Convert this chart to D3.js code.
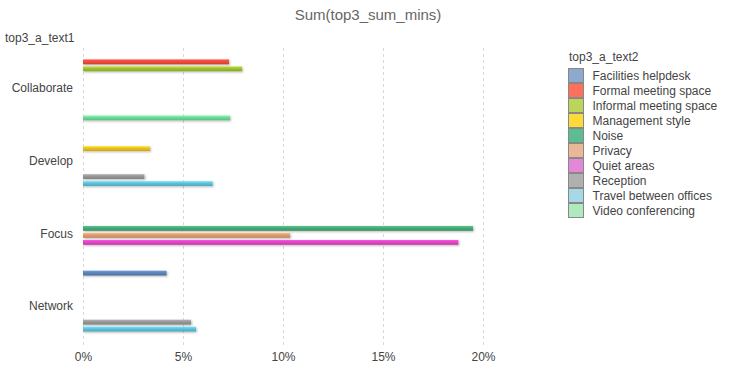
<!DOCTYPE html>
<html>
<head>
<meta charset="utf-8">
<script src="https://cdn.jsdelivr.net/npm/d3@7"></script>
<style>
  html, body { margin: 0; padding: 0; background: #fff; }
  svg { display: block; font-family: "Liberation Sans", Arial, sans-serif; }
</style>
</head>
<body>
<svg id="chart" width="740" height="368"></svg>
<script>
const categories = ["Collaborate", "Develop", "Focus", "Network"];
const seriesNames = ["Facilities helpdesk", "Formal meeting space", "Informal meeting space",
  "Management style", "Noise", "Privacy", "Quiet areas", "Reception",
  "Travel between offices", "Video conferencing"];
const legendColors = ["#8EA9CC", "#FF6F5E", "#B9D55A", "#FFD83A", "#5DBC92",
  "#E8B898", "#E388D6", "#B0B0B0", "#A8D8E8", "#B0E8C0"];
const barColors = ["#5A84BA", "#F04A3C", "#9DBF30", "#E8C020", "#48A876",
  "#E09A6E", "#E046C2", "#969696", "#5EC0D8", "#6ED896"];
// values in % (null = no bar)
const collaborateValues = [null, 7.3, 7.95, null, null, null, null, null, null, 7.35];
const developValues     = [null, null, null, 3.35, null, null, null, 3.07, 6.48, null];
const focusValues       = [null, null, null, null, 19.5, 10.35, 18.77, null, null, null];
const networkValues     = [4.18, null, null, null, null, null, null, 5.4, 5.65, null];
const xTicks = [0, 5, 10, 15, 20];

const valuesByCat = [collaborateValues, developValues, focusValues, networkValues];

const svg = d3.select("#chart");
const defs = svg.append("defs");

const f = defs.append("filter").attr("id", "shadow").attr("x", "-5%").attr("y", "-100%")
  .attr("width", "110%").attr("height", "300%");
f.append("feDropShadow").attr("dx", 1).attr("dy", 1).attr("stdDeviation", 0.9)
  .attr("flood-color", "#000").attr("flood-opacity", 0.28);

barColors.forEach((c, i) => {
  const g = defs.append("linearGradient").attr("id", "grad" + i)
    .attr("x1", 0).attr("y1", 0).attr("x2", 0).attr("y2", 1);
  g.append("stop").attr("offset", "0%").attr("stop-color", d3.color(c).brighter(0.5));
  g.append("stop").attr("offset", "45%").attr("stop-color", c);
  g.append("stop").attr("offset", "100%").attr("stop-color", d3.color(c).darker(0.4));
});

const x = d3.scaleLinear().domain([0, 20]).range([83, 483]);
const y0 = d3.scaleBand().domain(categories).range([50, 341]);
const y1 = d3.scaleBand().domain(seriesNames).range([0, y0.bandwidth()])
  .paddingInner(0.3).paddingOuter(0.345);

// title
svg.append("text").attr("x", 368).attr("y", 20).attr("text-anchor", "middle")
  .attr("font-size", 15).attr("fill", "#666").text("Sum(top3_sum_mins)");
svg.append("text").attr("x", 5).attr("y", 42).attr("font-size", 12)
  .attr("fill", "#444").text("top3_a_text1");

// grid
svg.append("g").selectAll("line").data(xTicks).join("line")
  .attr("x1", d => x(d) + 0.5).attr("x2", d => x(d) + 0.5)
  .attr("y1", 48).attr("y2", 346)
  .attr("stroke", "#d8d8d8").attr("stroke-dasharray", "3,3");

// x axis
const xAxis = svg.append("g").attr("transform", "translate(0,346)")
  .call(d3.axisBottom(x).tickValues(xTicks).tickFormat(d => d + "%").tickSize(0).tickPadding(6));
xAxis.select(".domain").remove();
xAxis.selectAll("text").attr("font-size", 12).attr("fill", "#444")
  .attr("font-family", "Liberation Sans, Arial, sans-serif");

// y axis
const yAxis = svg.append("g").attr("transform", "translate(73,2)")
  .call(d3.axisLeft(y0).tickSize(0).tickPadding(0));
yAxis.select(".domain").remove();
yAxis.selectAll("text").attr("font-size", 12).attr("fill", "#444")
  .attr("font-family", "Liberation Sans, Arial, sans-serif");

// bars
const barData = [];
categories.forEach((c, ci) => {
  valuesByCat[ci].forEach((v, si) => {
    if (v != null) barData.push({ cat: c, s: si, v });
  });
});
svg.append("g").selectAll("rect").data(barData).join("rect")
  .attr("x", x(0))
  .attr("y", d => y0(d.cat) + y1(seriesNames[d.s]))
  .attr("width", d => x(d.v) - x(0))
  .attr("height", y1.bandwidth())
  .attr("fill", d => "url(#grad" + d.s + ")")
  .attr("filter", "url(#shadow)");

// legend
const lg = svg.append("g");
lg.append("text").attr("x", 569).attr("y", 61).attr("font-size", 12)
  .attr("fill", "#444").text("top3_a_text2");
const items = lg.selectAll("g.item").data(seriesNames).join("g")
  .attr("class", "item")
  .attr("transform", (d, i) => `translate(568.5,${68.5 + i * 15})`);
items.append("rect").attr("width", 15).attr("height", 14)
  .attr("fill", (d, i) => legendColors[i]).attr("stroke", "#888").attr("stroke-width", 1);
items.append("text").attr("x", 24).attr("y", 11).attr("font-size", 12)
  .attr("fill", "#444").text(d => d);
</script>
</body>
</html>
